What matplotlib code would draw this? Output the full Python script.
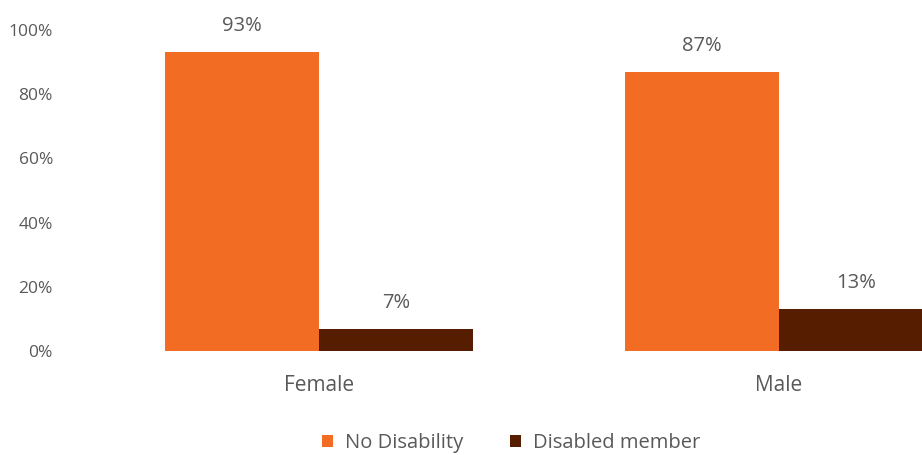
import matplotlib.pyplot as plt
import numpy as np

plt.rcParams['font.family'] = ['Open Sans', 'DejaVu Sans']

# data
categories = ['Female', 'Male']
no_disability = [0.93, 0.87]
disabled_member = [0.07, 0.13]
series_names = ['No Disability', 'Disabled member']

orange = '#F26C23'
brown = '#561D00'
grey = '#595959'

fig = plt.figure(figsize=(9.22, 4.55), dpi=100)
# plot area runs past the right edge, like the original
ax = fig.add_axes([89 / 922, 104 / 455, 920 / 922, 321 / 455])

x = np.arange(len(categories))
w = 0.335
b1 = ax.bar(x - w / 2, no_disability, w, color=orange, label=series_names[0])
b2 = ax.bar(x + w / 2, disabled_member, w, color=brown, label=series_names[1])

for bars in (b1, b2):
    for rect in bars:
        v = rect.get_height()
        ax.annotate(f'{v * 100:.0f}%', (rect.get_x() + rect.get_width() / 2, v),
                    xytext=(0, 11.5), textcoords='offset points',
                    ha='center', va='bottom', fontsize=14.5, color=grey)

ax.set_xlim(-0.5, 1.5)
ax.set_ylim(0, 1)
ax.set_yticks(np.arange(0, 1.01, 0.2))
ax.set_yticklabels([f'{int(t * 100)}%' for t in np.arange(0, 1.01, 0.2)])
ax.set_xticks(x)
ax.set_xticklabels(categories)
ax.tick_params(axis='y', length=0, pad=26, labelsize=12.5, labelcolor=grey)
ax.tick_params(axis='x', length=0, pad=17, labelsize=15, labelcolor=grey)
for s in ax.spines.values():
    s.set_visible(False)

fig.legend(loc='center', bbox_to_anchor=(511 / 922, 1 - 443 / 455), ncol=2,
           frameon=False, fontsize=14.5, labelcolor=grey,
           handlelength=0.55, handleheight=0.55, handletextpad=0.6,
           columnspacing=2.3)

fig.savefig('out.png', dpi=100)
